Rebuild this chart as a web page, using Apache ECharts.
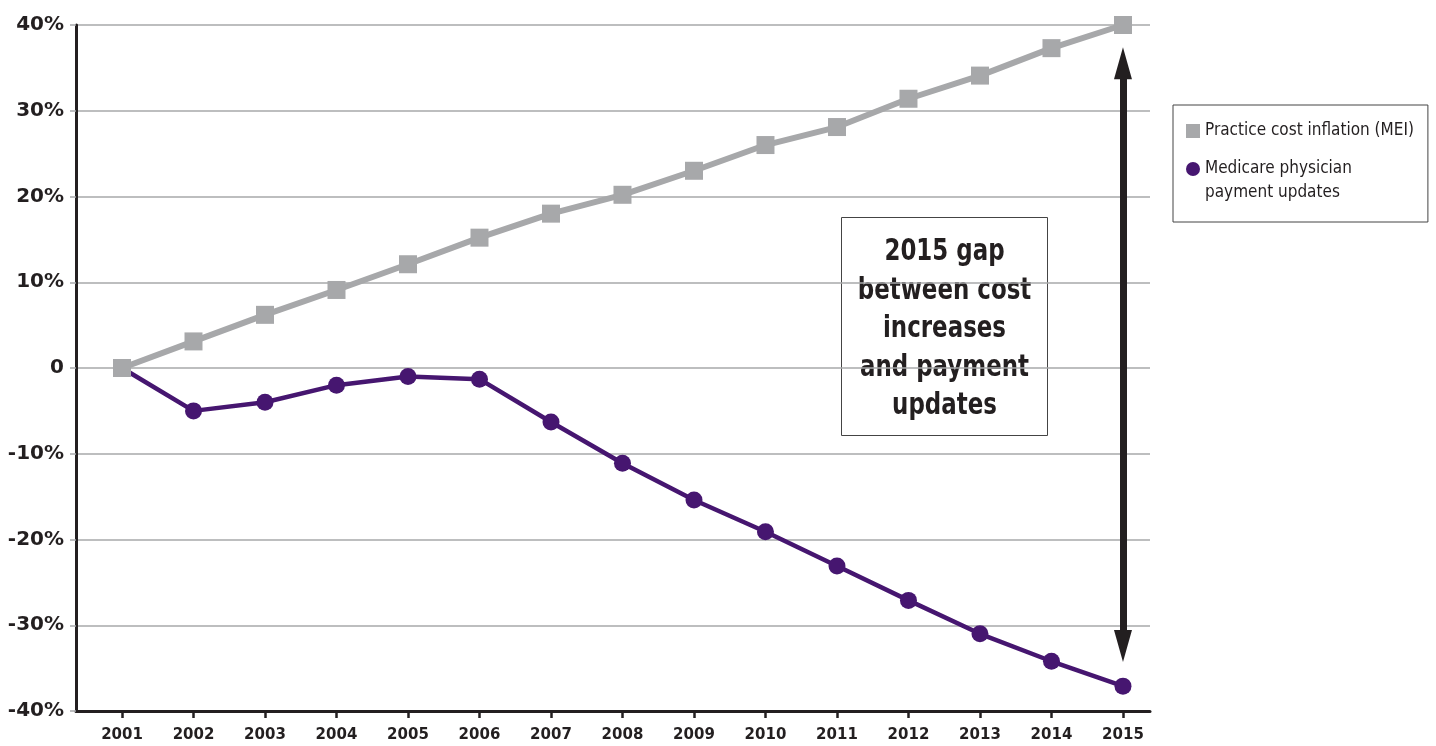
<!DOCTYPE html>
<html>
<head>
<meta charset="utf-8">
<script src="https://cdn.jsdelivr.net/npm/echarts@6/dist/echarts.min.js"></script>
<style>
html,body{margin:0;padding:0;background:#fff;}
#chart{width:1436px;height:746px;}
</style>
</head>
<body>
<div id="chart"></div>
<script>
const years = [2001,2002,2003,2004,2005,2006,2007,2008,2009,2010,2011,2012,2013,2014,2015];
const meiValues = [0,3.1,6.2,9.1,12.1,15.2,18.0,20.2,23.0,26.0,28.1,31.4,34.1,37.3,40.0];
const medicareValues = [0,-5.0,-4.0,-2.0,-1.0,-1.3,-6.3,-11.1,-15.4,-19.1,-23.1,-27.1,-31.0,-34.2,-37.1];
const yTicks = [-40,-30,-20,-10,0,10,20,30,40];
const seriesNames = ['Practice cost inflation (MEI)', 'Medicare physician\npayment updates'];
const gapYear = 2015;
const gapArrowTips = [37.4, -34.3];
const gapShaftEnds = [34.6, -31.4];
const annotationLines = ['2015 gap', 'between cost', 'increases', 'and payment', 'updates'];

const dark = '#231f20';
const gray = '#a7a8aa';
const purple = '#461670';
const condensed = "'DejaVu Sans Condensed','Liberation Sans Narrow',sans-serif";

const chart = echarts.init(document.getElementById('chart'));
chart.setOption({
  animation: false,
  backgroundColor: '#fff',
  grid: { left: 76, right: 286, top: 25, bottom: 35, containLabel: false },
  xAxis: {
    type: 'value',
    min: 2000.3566,
    max: 2015.378,
    splitLine: { show: false },
    axisLine: { show: true, onZero: false, lineStyle: { color: dark, width: 3 } },
    axisTick: { show: true, customValues: years, length: 7, lineStyle: { color: dark, width: 2.5 } },
    axisLabel: {
      customValues: years,
      margin: 17,
      color: dark,
      fontFamily: 'DejaVu Sans',
      fontWeight: 'bold',
      fontSize: 15,
      formatter: v => String(Math.round(v))
    }
  },
  yAxis: {
    type: 'value',
    min: -40,
    max: 40,
    interval: 10,
    axisLine: { show: true, onZero: false, lineStyle: { color: dark, width: 3 } },
    axisTick: { show: true, length: 6, lineStyle: { color: gray, width: 1.5 } },
    splitLine: { show: true, lineStyle: { color: gray, width: 1.5 } },
    axisLabel: {
      customValues: yTicks,
      margin: 12,
      color: dark,
      fontFamily: 'DejaVu Sans',
      fontWeight: 'bold',
      fontSize: 20,
      formatter: v => (v === 0 ? '0' : v + '%')
    }
  },
  legend: {
    orient: 'vertical',
    left: 1173,
    top: 105,
    backgroundColor: '#fff',
    borderColor: '#444',
    borderWidth: 1,
    borderRadius: 0,
    padding: [2, 14, 17, 13],
    itemGap: 2,
    itemWidth: 14,
    itemHeight: 48,
    symbolKeepAspect: true,
    selectedMode: false,
    textStyle: { fontFamily: condensed, fontSize: 17, color: dark, lineHeight: 24 },
    data: [
      { name: seriesNames[0], icon: 'path://M7,0 M0,17h14v14h-14z M7,48' },
      { name: seriesNames[1], icon: 'path://M7,0 M0,12a7,7 0 1,0 14,0a7,7 0 1,0 -14,0 M7,48' }
    ]
  },
  series: [
    {
      name: seriesNames[1],
      type: 'line',
      data: years.map((y, i) => [y, medicareValues[i]]),
      symbol: 'circle',
      symbolSize: 17,
      lineStyle: { color: purple, width: 4.5 },
      itemStyle: { color: purple },
      z: 2,
      markLine: {
        silent: true,
        symbol: ['none', 'none'],
        label: { show: false },
        lineStyle: { color: dark, width: 7, type: 'solid' },
        data: [[{ coord: [gapYear, gapShaftEnds[0]] }, { coord: [gapYear, gapShaftEnds[1]] }]]
      },
      markPoint: {
        silent: true,
        symbol: 'triangle',
        symbolSize: [18, 32],
        label: { show: false },
        itemStyle: { color: dark },
        data: [
          { coord: [gapYear, gapArrowTips[0]], symbolOffset: [0, 16] },
          { coord: [gapYear, gapArrowTips[1]], symbolRotate: 180, symbolOffset: [0, -16] }
        ]
      }
    },
    {
      name: seriesNames[0],
      type: 'line',
      data: years.map((y, i) => [y, meiValues[i]]),
      symbol: 'rect',
      symbolSize: 18,
      lineStyle: { color: gray, width: 6 },
      itemStyle: { color: gray },
      z: 3
    }
  ],
  graphic: [
    {
      type: 'group',
      left: 841,
      top: 217,
      z: 10,
      children: [
        {
          type: 'rect',
          shape: { x: 0, y: 0, width: 206, height: 218 },
          style: { fill: '#fff', stroke: '#444', lineWidth: 1 }
        },
        {
          type: 'text',
          x: 103,
          y: 112,
          scaleX: 0.85,
          style: {
            text: annotationLines.join('\n'),
            fontFamily: condensed,
            fontWeight: 'bold',
            fontSize: 30,
            lineHeight: 38.5,
            fill: dark,
            align: 'center',
            verticalAlign: 'middle'
          }
        }
      ]
    }
  ]
});
</script>
</body>
</html>
